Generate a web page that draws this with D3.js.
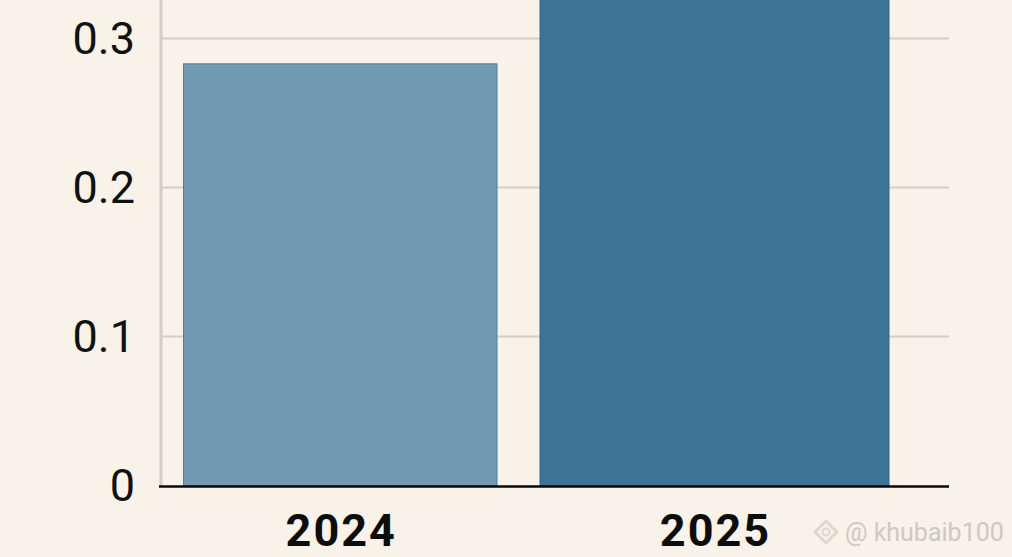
<!DOCTYPE html>
<html><head><meta charset="utf-8">
<script src="https://cdn.jsdelivr.net/npm/d3@7/dist/d3.min.js"></script>
<style>html,body{margin:0;padding:0;background:#f8f2e8;overflow:hidden}svg{display:block}</style>
</head><body><svg id="c"></svg>
<script>
const categories = ["2024","2025"];
const values = [0.283,0.36];
const barColors = ["#729bb3","#3d7396"];
const barEdges = ["#4f7f9e","#35688a"];
const yTicks = [0,0.1,0.2,0.3];
const W=1012,H=557;
const svg=d3.select("#c").attr("width",W).attr("height",H);
svg.append("rect").attr("width",W).attr("height",H).attr("fill","#f8f2e8");
const y=d3.scaleLinear().domain([0,0.3]).range([485.5,38.5]);
const xL=d3.scaleOrdinal(categories,[183.5,540]);
const xR=d3.scaleOrdinal(categories,[497,889]);
const left=161, right=949;
const font='Roboto,"Liberation Sans",Arial,sans-serif';
svg.selectAll("line.grid").data(yTicks.filter(d=>d>0)).join("line").attr("class","grid")
 .attr("x1",left).attr("x2",right).attr("y1",y).attr("y2",y)
 .attr("stroke","#d3cfc4").attr("stroke-width",2);
svg.append("line").attr("x1",left).attr("x2",left).attr("y1",0).attr("y2",y(0))
 .attr("stroke","#d3cfc4").attr("stroke-width",3);
svg.selectAll("rect.bar").data(categories).join("rect").attr("class","bar")
 .attr("x",d=>xL(d)).attr("width",d=>xR(d)-xL(d))
 .attr("y",(d,i)=>y(values[i])).attr("height",(d,i)=>y(0)-y(values[i]))
 .attr("fill",(d,i)=>barColors[i]).attr("stroke",(d,i)=>barEdges[i]).attr("stroke-width",1);
svg.append("line").attr("x1",159).attr("x2",right).attr("y1",y(0)+1).attr("y2",y(0)+1)
 .attr("stroke","#0a0a0a").attr("stroke-width",2.5);
svg.selectAll("text.yl").data(yTicks).join("text").attr("class","yl")
 .attr("x",135).attr("y",d=>y(d)+15).attr("text-anchor","end")
 .attr("font-family",font).attr("font-size",45).attr("fill","#111")
 .text(d=>d===0?"0":d3.format(".1f")(d));
svg.selectAll("text.xl").data(categories).join("text").attr("class","xl")
 .attr("x",d=>(xL(d)+xR(d))/2+1).attr("y",546).attr("text-anchor","middle")
 .attr("font-family",font).attr("font-weight","700").attr("font-size",45).attr("letter-spacing",2).attr("fill","#0d0d0d")
 .text(d=>d);
svg.append("text").attr("x",845).attr("y",541).attr("font-family",'Roboto,"Liberation Sans",sans-serif')
 .attr("font-size",25).attr("fill","#cdc9c2").text("@ khubaib100");
const m=svg.append("g").attr("transform","translate(826,532)").attr("fill","none").attr("stroke","#dcd8d0").attr("stroke-width",3);
m.append("path").attr("d",d3.symbol(d3.symbolSquare,240)).attr("transform","rotate(45)");
m.append("circle").attr("r",3.5).attr("stroke-width",2);
</script></body></html>
